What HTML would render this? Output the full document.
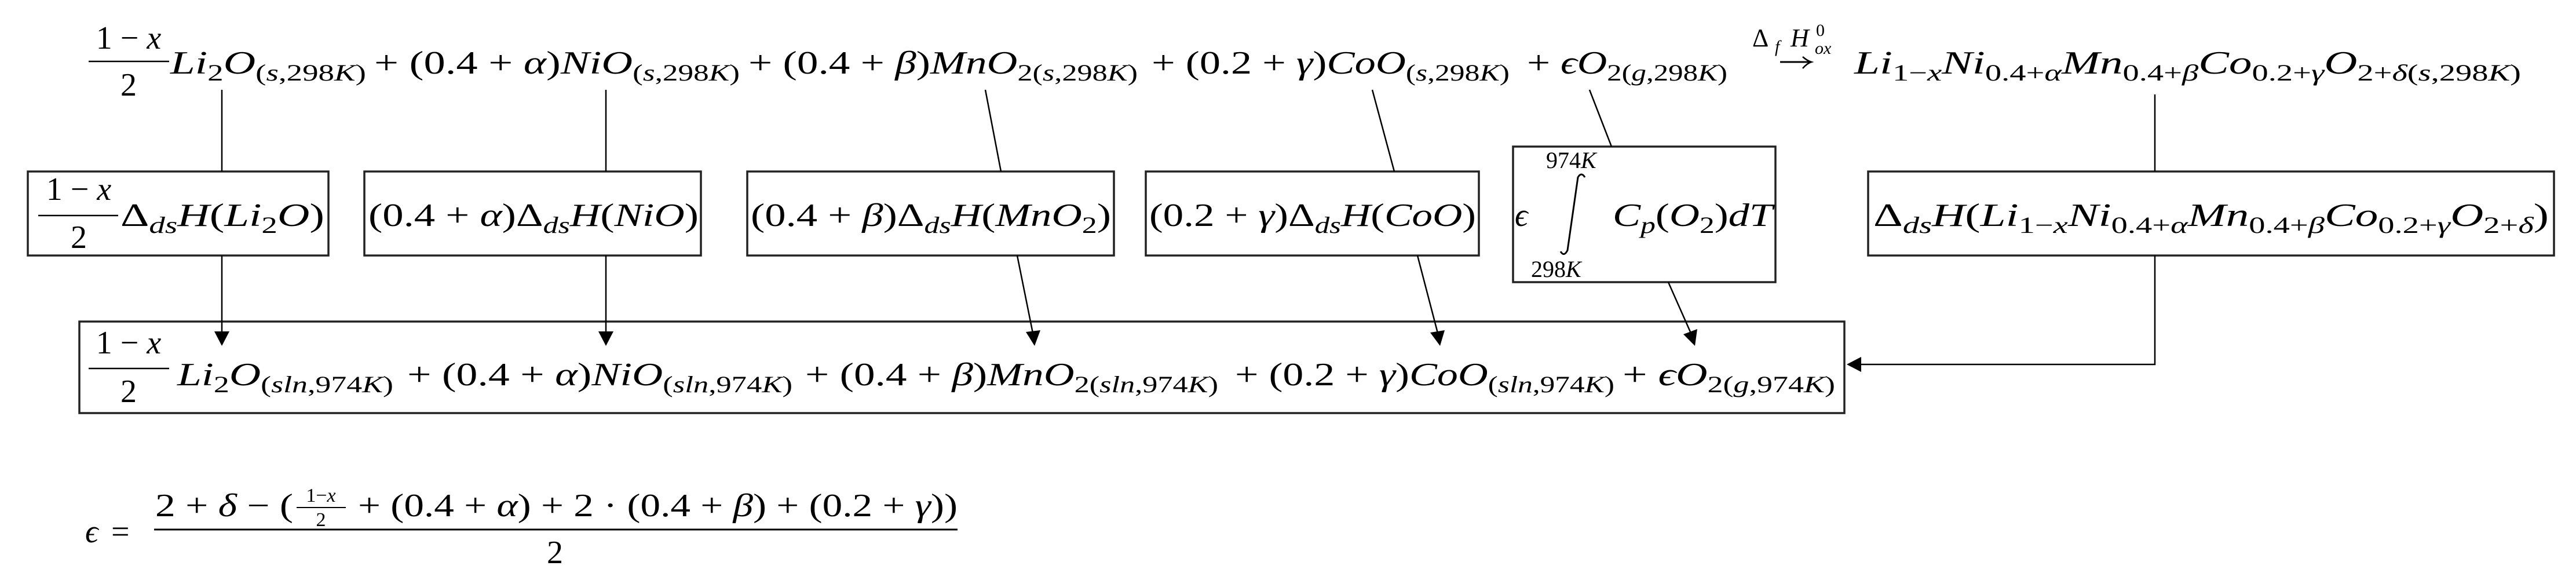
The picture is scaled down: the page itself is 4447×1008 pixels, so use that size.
<!DOCTYPE html>
<html><head><meta charset="utf-8"><style>
html,body{margin:0;padding:0;background:#fff;}
svg{display:block;}
text{font-family:"Liberation Serif",serif;fill:#000;}
.i{font-style:italic;}
</style></head><body>
<svg width="4447" height="1008" viewBox="0 0 4447 1008" xmlns="http://www.w3.org/2000/svg">
<g font-size="56">
<!-- TOP ROW -->
<text x="222" y="84" text-anchor="middle">1 − <tspan class="i">x</tspan></text>
<line x1="153" y1="106" x2="292" y2="106" stroke="#000" stroke-width="2.5"/>
<text x="222" y="165" text-anchor="middle">2</text>
<text x="294" y="127" textLength="338" lengthAdjust="spacingAndGlyphs"><tspan class="i">Li</tspan><tspan font-size="40" dy="12">2</tspan><tspan class="i" dy="-12">O</tspan><tspan font-size="40" dy="12">(<tspan class="i">s</tspan>,298<tspan class="i">K</tspan>)</tspan></text>
<text x="646" y="127" textLength="631" lengthAdjust="spacingAndGlyphs">+ (0.4 + <tspan class="i">α</tspan>)<tspan class="i">NiO</tspan><tspan font-size="40" dy="12">(<tspan class="i">s</tspan>,298<tspan class="i">K</tspan>)</tspan></text>
<text x="1292" y="127" textLength="672" lengthAdjust="spacingAndGlyphs">+ (0.4 + <tspan class="i">β</tspan>)<tspan class="i">MnO</tspan><tspan font-size="40" dy="12">2(<tspan class="i">s</tspan>,298<tspan class="i">K</tspan>)</tspan></text>
<text x="1988" y="127" textLength="618" lengthAdjust="spacingAndGlyphs">+ (0.2 + <tspan class="i">γ</tspan>)<tspan class="i">CoO</tspan><tspan font-size="40" dy="12">(<tspan class="i">s</tspan>,298<tspan class="i">K</tspan>)</tspan></text>
<text x="2636" y="127" textLength="346" lengthAdjust="spacingAndGlyphs">+ <tspan class="i">ϵO</tspan><tspan font-size="40" dy="12">2(<tspan class="i">g</tspan>,298<tspan class="i">K</tspan>)</tspan></text>
<!-- arrow label -->
<text x="3025" y="80" font-size="44">Δ</text>
<text x="3064" y="90" font-size="30" class="i">f</text>
<text x="3091" y="80" font-size="44" class="i">H</text>
<text x="3135" y="62" font-size="30">0</text>
<text x="3133" y="93" font-size="30" class="i">ox</text>
<line x1="3073" y1="107" x2="3124" y2="107" stroke="#000" stroke-width="3"/>
<path d="M3112,98 Q3120,105 3127,107 Q3120,109 3112,118" fill="none" stroke="#000" stroke-width="2.5"/>
<text x="3201" y="127" textLength="1151" lengthAdjust="spacingAndGlyphs"><tspan class="i">Li</tspan><tspan font-size="40" dy="12">1−<tspan class="i">x</tspan></tspan><tspan class="i" dy="-12">Ni</tspan><tspan font-size="40" dy="12">0.4+<tspan class="i">α</tspan></tspan><tspan class="i" dy="-12">Mn</tspan><tspan font-size="40" dy="12">0.4+<tspan class="i">β</tspan></tspan><tspan class="i" dy="-12">Co</tspan><tspan font-size="40" dy="12">0.2+<tspan class="i">γ</tspan></tspan><tspan class="i" dy="-12">O</tspan><tspan font-size="40" dy="12">2+<tspan class="i">δ</tspan>(<tspan class="i">s</tspan>,298<tspan class="i">K</tspan>)</tspan></text>

<!-- MIDDLE BOXES -->
<g fill="none" stroke="#222" stroke-width="3.5">
<rect x="48" y="296" width="519" height="145"/>
<rect x="629" y="296" width="581" height="145"/>
<rect x="1290" y="296" width="633" height="145"/>
<rect x="1978" y="296" width="575" height="145"/>
<rect x="2612" y="253" width="453" height="234"/>
<rect x="3225" y="296" width="1184" height="145"/>
<rect x="137" y="555" width="3047" height="158"/>
</g>
<text x="136" y="345" text-anchor="middle">1 − <tspan class="i">x</tspan></text>
<line x1="66" y1="372" x2="204" y2="372" stroke="#000" stroke-width="2.5"/>
<text x="136" y="428" text-anchor="middle">2</text>
<text x="208" y="390" textLength="352" lengthAdjust="spacingAndGlyphs">Δ<tspan font-size="40" dy="12" class="i">ds</tspan><tspan class="i" dy="-12">H</tspan>(<tspan class="i">Li</tspan><tspan font-size="40" dy="12">2</tspan><tspan class="i" dy="-12">O</tspan>)</text>
<text x="636" y="390" textLength="570" lengthAdjust="spacingAndGlyphs">(0.4 + <tspan class="i">α</tspan>)Δ<tspan font-size="40" dy="12" class="i">ds</tspan><tspan class="i" dy="-12">H</tspan>(<tspan class="i">NiO</tspan>)</text>
<text x="1296" y="390" textLength="622" lengthAdjust="spacingAndGlyphs">(0.4 + <tspan class="i">β</tspan>)Δ<tspan font-size="40" dy="12" class="i">ds</tspan><tspan class="i" dy="-12">H</tspan>(<tspan class="i">MnO</tspan><tspan font-size="40" dy="12">2</tspan><tspan dy="-12">)</tspan></text>
<text x="1984" y="390" textLength="564" lengthAdjust="spacingAndGlyphs">(0.2 + <tspan class="i">γ</tspan>)Δ<tspan font-size="40" dy="12" class="i">ds</tspan><tspan class="i" dy="-12">H</tspan>(<tspan class="i">CoO</tspan>)</text>
<!-- integral box -->
<text x="2615" y="390" class="i">ϵ</text>
<text x="2669" y="290" font-size="40">974<tspan class="i">K</tspan></text>
<path d="M2736,306 Q2730,296 2724,306 L2706,432 Q2700,444 2694,434" fill="none" stroke="#000" stroke-width="3"/>
<text x="2643" y="478" font-size="40">298<tspan class="i">K</tspan></text>
<text x="2784" y="390" textLength="276" lengthAdjust="spacingAndGlyphs"><tspan class="i">C</tspan><tspan font-size="40" dy="12" class="i">p</tspan><tspan dy="-12">(</tspan><tspan class="i">O</tspan><tspan font-size="40" dy="12">2</tspan><tspan dy="-12">)</tspan><tspan class="i">dT</tspan></text>
<text x="3234" y="390" textLength="1166" lengthAdjust="spacingAndGlyphs">Δ<tspan font-size="40" dy="12" class="i">ds</tspan><tspan class="i" dy="-12">H</tspan>(<tspan class="i">Li</tspan><tspan font-size="40" dy="12">1−<tspan class="i">x</tspan></tspan><tspan class="i" dy="-12">Ni</tspan><tspan font-size="40" dy="12">0.4+<tspan class="i">α</tspan></tspan><tspan class="i" dy="-12">Mn</tspan><tspan font-size="40" dy="12">0.4+<tspan class="i">β</tspan></tspan><tspan class="i" dy="-12">Co</tspan><tspan font-size="40" dy="12">0.2+<tspan class="i">γ</tspan></tspan><tspan class="i" dy="-12">O</tspan><tspan font-size="40" dy="12">2+<tspan class="i">δ</tspan></tspan><tspan dy="-12">)</tspan></text>

<!-- BOTTOM BOX -->
<text x="222" y="610" text-anchor="middle">1 − <tspan class="i">x</tspan></text>
<line x1="153" y1="636" x2="292" y2="636" stroke="#000" stroke-width="2.5"/>
<text x="222" y="694" text-anchor="middle">2</text>
<text x="306" y="665" textLength="373" lengthAdjust="spacingAndGlyphs"><tspan class="i">Li</tspan><tspan font-size="40" dy="12">2</tspan><tspan class="i" dy="-12">O</tspan><tspan font-size="40" dy="12">(<tspan class="i">sln</tspan>,974<tspan class="i">K</tspan>)</tspan></text>
<text x="703" y="665" textLength="665" lengthAdjust="spacingAndGlyphs">+ (0.4 + <tspan class="i">α</tspan>)<tspan class="i">NiO</tspan><tspan font-size="40" dy="12">(<tspan class="i">sln</tspan>,974<tspan class="i">K</tspan>)</tspan></text>
<text x="1390" y="665" textLength="713" lengthAdjust="spacingAndGlyphs">+ (0.4 + <tspan class="i">β</tspan>)<tspan class="i">MnO</tspan><tspan font-size="40" dy="12">2(<tspan class="i">sln</tspan>,974<tspan class="i">K</tspan>)</tspan></text>
<text x="2132" y="665" textLength="655" lengthAdjust="spacingAndGlyphs">+ (0.2 + <tspan class="i">γ</tspan>)<tspan class="i">CoO</tspan><tspan font-size="40" dy="12">(<tspan class="i">sln</tspan>,974<tspan class="i">K</tspan>)</tspan></text>
<text x="2801" y="665" textLength="367" lengthAdjust="spacingAndGlyphs">+ <tspan class="i">ϵO</tspan><tspan font-size="40" dy="12">2(<tspan class="i">g</tspan>,974<tspan class="i">K</tspan>)</tspan></text>

<!-- CONNECTORS -->
<g stroke="#000" stroke-width="2.5" fill="none">
<line x1="383" y1="155" x2="383" y2="296"/>
<line x1="1046" y1="155" x2="1046" y2="296"/>
<line x1="1701" y1="155" x2="1728" y2="296"/>
<line x1="2369" y1="155" x2="2407" y2="296"/>
<line x1="2744" y1="155" x2="2782" y2="253"/>
<line x1="3720" y1="163" x2="3720" y2="296"/>
<line x1="383" y1="441" x2="383" y2="575"/>
<line x1="1046" y1="441" x2="1046" y2="575"/>
<line x1="1756" y1="441" x2="1783" y2="575"/>
<line x1="2447" y1="441" x2="2482" y2="575"/>
<line x1="2880" y1="487" x2="2919" y2="575"/>
<polyline points="3720,441 3720,629 3210,629"/>
</g>
<g fill="#000">
<polygon points="383,597 370,572 396,572"/>
<polygon points="1046,597 1033,572 1059,572"/>
<polygon points="1786,597 1771,573 1796,570"/>
<polygon points="2486,597 2469,574 2494,570"/>
<polygon points="2926,597 2906,577 2930,568"/>
<polygon points="3188,629 3213,616 3213,642"/>
</g>

<!-- EPSILON EQUATION -->
<text x="147" y="936" class="i">ϵ</text>
<text x="192" y="936">=</text>
<text x="268" y="891" textLength="238" lengthAdjust="spacingAndGlyphs">2 + <tspan class="i">δ</tspan> − (</text>
<text x="554" y="866" font-size="34" text-anchor="middle">1−<tspan class="i">x</tspan></text>
<line x1="512" y1="876" x2="597" y2="876" stroke="#000" stroke-width="2"/>
<text x="554" y="908" font-size="34" text-anchor="middle">2</text>
<text x="618" y="891" textLength="1035" lengthAdjust="spacingAndGlyphs">+ (0.4 + <tspan class="i">α</tspan>) + 2 · (0.4 + <tspan class="i">β</tspan>) + (0.2 + <tspan class="i">γ</tspan>))</text>
<line x1="266" y1="914" x2="1653" y2="914" stroke="#000" stroke-width="3"/>
<text x="958" y="972" text-anchor="middle">2</text>
</g>
</svg>
</body></html>
